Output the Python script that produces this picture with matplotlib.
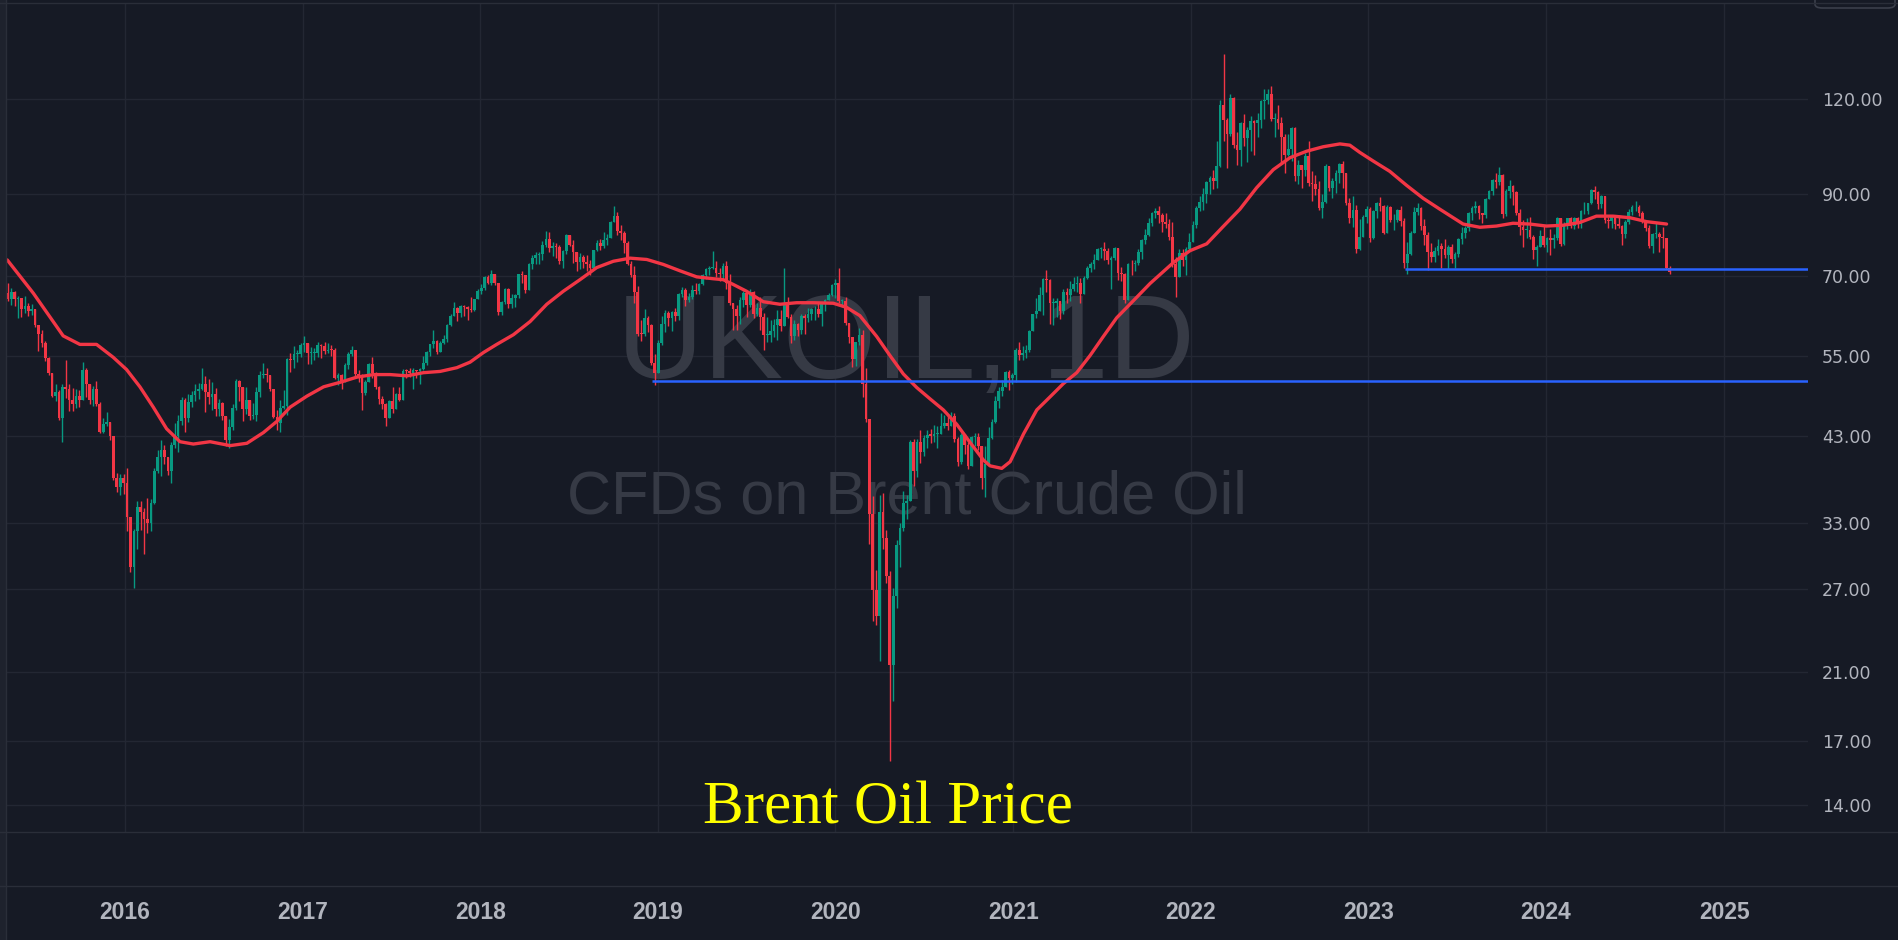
# Brent (UKOIL CFD) daily chart redrawn from weekly candles
import numpy as np
import pandas as pd
import matplotlib
matplotlib.use("Agg")
import matplotlib.pyplot as plt
import matplotlib.dates as mdates
from matplotlib import font_manager as fm
from matplotlib.lines import Line2D
from matplotlib.patches import Rectangle, FancyBboxPatch
from matplotlib.ticker import FixedLocator, NullLocator, FuncFormatter

# ---- data: weekly candles (week ending Friday) ----
first_week = "2015-05-01"
first_open = 66.0

wk_close = [
    # 2015
    66.5, 65.4, 66.8, 65.4, 65.6, 63.3, 63.9, 63.0, 63.3, 60.3, 58.7, 57.1, 54.6, 52.2, 48.6, 49.2, 45.5, 50.0,
    49.6, 48.1, 47.5, 48.6, 48.1, 52.7, 50.5, 48.0, 49.6, 47.4, 43.6, 44.7, 44.9, 43.0, 37.9, 36.9, 37.9,
    # 2016
    37.3, 33.6, 28.9, 32.2, 34.7, 34.1, 33.4, 33.0, 35.1, 38.7, 40.4, 41.2, 40.4, 38.7, 41.9, 43.1, 45.1, 48.1,
    45.4, 47.8, 48.7, 49.3, 49.6, 50.5, 49.2, 48.4, 48.9, 46.8, 47.6, 45.7, 42.5, 44.3, 46.9, 50.9, 49.9, 46.8,
    48.0, 45.8, 45.9, 49.2, 51.9, 51.9, 51.8, 49.7, 45.6, 44.8, 46.9, 47.2, 54.5, 54.3, 55.2, 55.2, 56.8,
    # 2017
    57.1, 55.5, 55.5, 55.5, 56.8, 56.7, 55.8, 56.0, 55.9, 51.4, 51.8, 50.8, 53.5, 55.2, 55.9, 52.0, 51.7, 49.1,
    50.8, 53.6, 52.2, 49.9, 48.2, 47.4, 45.5, 47.9, 46.7, 48.9, 48.1, 52.5, 52.4, 52.1, 52.7, 52.4, 52.8, 53.8,
    55.6, 56.9, 57.5, 55.6, 57.2, 57.8, 60.4, 62.1, 63.5, 62.7, 63.9, 63.7, 63.4, 63.2, 65.3, 66.9,
    # 2018
    67.6, 69.9, 68.6, 70.5, 68.6, 62.8, 64.8, 67.3, 64.4, 65.5, 66.2, 70.5, 70.3, 67.1, 72.6, 74.1, 74.6, 74.9,
    77.1, 78.5, 76.4, 76.8, 76.5, 73.4, 75.6, 79.4, 77.1, 75.3, 73.1, 74.3, 73.2, 72.8, 71.8, 75.8, 77.4, 76.8,
    78.1, 78.8, 82.7, 84.2, 80.4, 79.8, 77.6, 72.8, 70.2, 66.8, 58.8, 58.7, 61.7, 60.3, 53.8, 52.2,
    # 2019
    57.1, 60.5, 62.7, 61.6, 62.8, 62.1, 66.3, 67.1, 65.1, 65.7, 67.2, 67.0, 68.4, 70.3, 71.6, 71.9, 71.9, 70.8,
    70.6, 72.2, 68.7, 64.5, 63.3, 62.0, 65.2, 66.6, 64.2, 66.7, 62.5, 63.5, 61.9, 58.5, 58.6, 59.3, 60.4, 61.5,
    60.2, 64.3, 61.9, 58.4, 60.5, 59.4, 62.0, 61.7, 62.5, 63.3, 63.4, 62.4, 64.4, 65.2, 66.1, 68.2,
    # 2020
    68.6, 64.9, 64.9, 60.7, 58.2, 54.5, 57.3, 58.5, 50.5, 45.3, 33.9, 26.9, 24.9, 34.1, 31.5, 28.1, 21.4, 26.4,
    30.9, 32.5, 35.1, 35.3, 42.3, 38.7, 42.2, 41.0, 42.8, 43.2, 43.1, 43.3, 43.3, 44.4, 44.8, 44.4, 45.8, 42.7,
    39.8, 43.2, 41.9, 39.3, 42.9, 42.9, 41.8, 37.9, 39.5, 42.8, 44.9, 47.9, 49.3, 50.0, 52.3, 51.3,
    # 2021
    51.8, 56.0, 55.1, 55.4, 55.9, 59.3, 62.4, 62.9, 66.1, 69.4, 69.2, 64.5, 64.6, 64.9, 62.9, 66.8, 66.1, 67.3,
    68.3, 68.7, 66.4, 69.6, 71.9, 72.7, 73.5, 76.2, 76.2, 75.6, 73.6, 74.1, 76.3, 70.7, 70.6, 65.2, 72.7, 72.6,
    72.9, 75.3, 78.1, 79.3, 82.4, 84.9, 85.5, 84.4, 82.7, 82.2, 78.9, 72.7, 69.9, 75.2, 73.5, 76.1, 77.8,
    # 2022
    81.8, 86.1, 87.9, 90.0, 93.3, 94.4, 93.5, 97.9, 118.1, 112.7, 107.9, 120.7, 104.4, 102.8, 111.7, 106.7, 109.3,
    112.4, 111.6, 112.6, 119.4, 119.7, 122.0, 113.1, 113.1, 111.6, 107.0, 101.2, 103.2, 110.0, 94.9, 98.2, 96.7,
    100.9, 93.0, 92.8, 91.4, 86.2, 87.9, 97.9, 91.6, 93.5, 95.8, 98.6, 96.0, 87.6, 83.6, 85.6, 76.1, 79.0, 83.9, 85.9,
    # 2023
    78.6, 85.3, 87.6, 86.7, 79.9, 86.4, 83.0, 83.2, 85.8, 82.8, 73.0, 75.0, 79.8, 85.1, 86.3, 81.7, 79.5, 75.3,
    74.2, 75.6, 76.9, 76.1, 74.8, 76.6, 73.9, 74.9, 78.5, 79.9, 81.1, 85.0, 86.2, 86.8, 84.8, 84.5, 88.6, 90.7,
    93.9, 93.3, 95.3, 84.6, 90.9, 92.2, 90.5, 84.9, 81.4, 80.6, 80.6, 78.9, 75.8, 76.6, 79.1, 77.0,
    # 2024
    78.8, 78.3, 78.6, 83.6, 77.3, 82.2, 83.5, 81.6, 83.6, 82.1, 85.3, 85.4, 87.5, 91.2, 90.5, 87.3, 89.5, 83.0,
    82.8, 83.9, 82.1, 81.6, 79.6, 82.6, 85.2, 86.4, 86.5, 85.0, 82.6, 81.1, 76.8, 79.7, 79.7, 79.0, 78.8, 71.9, 70.9,
]

wk_high = [
    # 2015
    67.1, 68.5, 67.5, 67.0, 66.0, 65.6, 65.9, 64.5, 64.3, 63.3, 60.3, 59.5, 57.5, 54.8, 51.2, 50.5, 49.5, 50.5,
    54.2, 50.5, 49.8, 49.7, 49.5, 53.9, 53.0, 50.5, 50.1, 50.9, 47.8, 45.5, 46.3, 44.9, 43.0, 38.5, 38.3,
    # 2016
    38.3, 39.0, 33.6, 32.4, 35.3, 35.3, 34.6, 35.6, 35.5, 39.0, 41.3, 42.5, 41.9, 40.4, 42.3, 44.8, 45.9, 48.5,
    48.3, 48.9, 49.3, 50.5, 50.6, 52.9, 51.6, 51.2, 50.8, 49.8, 48.2, 47.8, 45.8, 45.3, 47.4, 51.2, 51.0, 49.4,
    49.9, 48.0, 47.6, 49.9, 52.5, 53.7, 53.0, 51.9, 49.6, 46.6, 48.0, 49.5, 54.6, 55.4, 56.6, 55.9, 57.1,
    # 2017
    58.4, 57.2, 56.4, 56.3, 57.3, 57.0, 57.3, 57.1, 56.8, 56.2, 52.1, 52.0, 53.7, 55.6, 56.6, 55.6, 52.6, 52.0,
    51.1, 53.7, 54.7, 52.3, 50.2, 48.6, 47.6, 48.1, 50.0, 49.0, 49.9, 52.8, 52.8, 53.0, 52.9, 52.6, 53.0, 55.0,
    55.8, 57.0, 59.5, 57.6, 57.5, 58.5, 60.5, 62.4, 64.7, 63.7, 64.1, 64.1, 63.9, 65.8, 65.4, 67.3,
    # 2018
    68.3, 70.1, 70.4, 71.3, 70.4, 68.7, 65.0, 67.5, 67.6, 66.4, 66.4, 70.6, 71.2, 69.7, 73.0, 74.7, 75.5, 75.3,
    78.0, 80.5, 80.2, 77.7, 77.4, 77.0, 75.9, 79.6, 79.4, 78.3, 74.1, 75.2, 74.6, 74.8, 73.6, 75.9, 78.3, 78.5,
    80.1, 79.6, 82.8, 86.7, 85.2, 81.8, 80.5, 77.9, 73.4, 72.3, 67.9, 61.3, 63.4, 62.0, 60.5, 55.3,
    # 2019
    57.6, 62.0, 63.2, 63.0, 63.0, 63.5, 66.5, 67.7, 67.5, 66.5, 68.1, 68.7, 68.5, 70.5, 71.9, 72.3, 75.6, 73.3,
    71.9, 72.9, 73.3, 70.5, 64.6, 64.1, 65.8, 66.9, 66.8, 67.4, 67.0, 64.5, 65.7, 62.6, 61.9, 61.2, 61.5, 63.2,
    63.1, 71.9, 65.8, 62.4, 61.3, 60.8, 62.5, 62.4, 63.5, 63.5, 64.0, 64.5, 64.8, 65.4, 66.5, 68.4,
    # 2020
    69.5, 71.8, 65.3, 65.7, 60.5, 56.9, 57.4, 59.8, 59.4, 53.0, 45.3, 35.8, 28.6, 36.0, 36.2, 32.3, 28.5, 27.1,
    31.4, 33.0, 36.4, 36.0, 42.5, 42.6, 42.6, 43.8, 43.2, 43.8, 44.0, 44.5, 44.4, 46.1, 45.9, 46.0, 46.3, 46.2,
    42.9, 43.5, 43.3, 42.2, 43.1, 43.5, 43.4, 41.7, 41.7, 44.2, 45.3, 48.6, 49.9, 51.0, 52.5, 52.6,
    # 2021
    52.1, 56.3, 57.4, 56.6, 56.8, 59.5, 62.5, 65.5, 67.7, 69.7, 71.4, 69.5, 65.6, 65.5, 64.9, 67.4, 67.5, 69.0,
    69.8, 70.0, 69.7, 70.0, 72.2, 73.2, 74.9, 76.4, 76.5, 77.8, 76.4, 74.4, 76.5, 76.0, 72.0, 70.7, 72.9, 73.6,
    73.5, 76.0, 78.5, 80.8, 83.5, 85.1, 86.1, 86.7, 85.0, 84.9, 83.3, 82.5, 74.3, 76.0, 76.0, 76.6, 79.8,
    # 2022
    82.9, 86.7, 89.5, 91.7, 93.7, 95.0, 96.8, 105.8, 119.8, 138.0, 113.5, 122.0, 121.0, 108.8, 112.0, 114.8, 110.5,
    114.0, 112.6, 115.0, 119.8, 124.0, 124.0, 125.2, 115.0, 118.0, 113.6, 108.0, 108.0, 110.3, 110.2, 99.7, 97.3,
    102.0, 105.6, 96.6, 95.4, 93.5, 90.0, 98.7, 97.7, 94.5, 96.9, 98.8, 99.6, 95.0, 89.0, 89.4, 87.0, 83.4, 84.4, 86.7,
    # 2023
    86.5, 85.7, 87.8, 89.1, 86.9, 86.9, 86.8, 84.6, 86.0, 86.8, 83.7, 77.7, 80.4, 86.4, 87.5, 86.5, 83.3, 80.2,
    77.5, 76.6, 78.5, 77.4, 78.5, 77.0, 77.3, 75.3, 78.8, 81.4, 81.6, 85.1, 86.7, 88.1, 87.0, 85.0, 88.8, 91.2,
    94.3, 95.9, 97.7, 95.5, 91.3, 93.8, 92.4, 90.8, 85.9, 83.2, 83.5, 84.0, 79.3, 77.0, 80.6, 81.7,
    # 2024
    79.0, 80.8, 79.7, 84.0, 83.7, 82.6, 83.7, 84.0, 84.0, 83.8, 85.7, 87.7, 87.6, 91.3, 92.2, 90.8, 89.7, 89.0,
    84.0, 84.2, 83.9, 84.4, 81.9, 83.0, 86.0, 87.0, 88.0, 87.0, 85.4, 83.0, 81.8, 80.0, 82.4, 80.2, 81.4, 78.6, 72.3,
]

wk_low = [
    # 2015
    64.5, 64.9, 64.2, 64.0, 61.6, 61.8, 62.7, 62.0, 62.3, 60.0, 55.8, 56.4, 54.1, 51.8, 48.4, 47.9, 45.2, 42.2,
    48.3, 46.4, 46.5, 46.9, 47.0, 48.0, 48.5, 47.5, 47.1, 47.2, 43.4, 43.5, 44.4, 42.5, 37.6, 36.3, 36.0,
    # 2016
    36.1, 32.2, 28.4, 27.1, 30.5, 32.3, 30.0, 32.0, 32.2, 35.0, 38.5, 38.1, 39.5, 38.2, 37.3, 41.5, 41.0, 44.5,
    43.6, 44.9, 47.0, 47.9, 48.2, 49.5, 46.3, 47.5, 46.6, 45.8, 45.8, 45.2, 41.8, 41.5, 43.9, 46.6, 47.9, 45.1,
    46.0, 45.2, 45.3, 45.1, 48.4, 51.3, 50.7, 49.4, 45.4, 43.9, 43.6, 46.8, 45.9, 52.3, 53.0, 54.0, 54.8,
    # 2017
    55.6, 53.6, 53.6, 54.2, 54.8, 54.6, 55.3, 55.5, 55.0, 51.2, 50.3, 49.7, 50.7, 52.8, 55.0, 51.6, 50.7, 46.6,
    48.8, 50.8, 51.3, 49.6, 47.5, 46.7, 44.4, 45.5, 46.1, 46.9, 47.9, 48.0, 51.3, 51.5, 49.7, 51.4, 50.5, 52.6,
    53.5, 54.9, 56.2, 55.2, 55.8, 57.0, 57.3, 60.2, 62.0, 61.1, 61.8, 62.0, 61.3, 62.8, 63.0, 65.3,
    # 2018
    66.3, 67.2, 68.3, 68.2, 68.2, 62.3, 62.2, 64.3, 63.5, 63.6, 63.7, 65.5, 68.7, 66.6, 67.4, 71.6, 72.8, 72.6,
    73.6, 76.6, 75.3, 74.5, 74.1, 72.6, 71.9, 74.9, 76.8, 73.0, 71.2, 71.7, 71.8, 71.2, 70.3, 71.6, 75.6, 75.9,
    76.3, 77.0, 78.6, 83.1, 79.4, 78.1, 75.1, 72.4, 69.8, 64.6, 58.4, 57.5, 58.4, 59.1, 53.5, 50.3,
    # 2019
    52.5, 56.8, 59.0, 60.1, 59.3, 61.1, 61.3, 65.7, 64.0, 64.8, 65.4, 66.3, 66.3, 68.2, 69.4, 70.3, 71.7, 69.9,
    69.1, 69.4, 67.4, 64.2, 59.5, 59.5, 60.5, 63.8, 61.8, 63.7, 61.7, 62.0, 59.5, 55.9, 57.4, 57.3, 58.2, 57.6,
    59.2, 60.5, 61.6, 57.1, 57.7, 58.3, 58.8, 58.8, 60.9, 61.3, 61.2, 61.8, 60.2, 63.0, 65.1, 65.9,
    # 2020
    65.5, 64.5, 63.8, 60.4, 57.1, 53.1, 53.3, 56.8, 48.4, 44.9, 31.0, 24.5, 24.2, 21.7, 30.5, 27.5, 16.0, 19.2,
    25.5, 28.9, 32.2, 33.4, 36.5, 37.0, 38.0, 39.6, 40.5, 41.5, 42.1, 42.3, 41.5, 43.3, 44.1, 43.9, 44.5, 42.3,
    39.3, 39.5, 40.8, 38.9, 39.5, 41.7, 41.2, 36.6, 35.7, 39.3, 42.6, 44.8, 46.9, 48.6, 49.9, 49.5,
    # 2021
    50.4, 50.7, 54.3, 54.2, 54.6, 55.6, 59.4, 61.7, 63.3, 62.3, 66.7, 60.5, 60.3, 61.8, 61.5, 62.4, 64.6, 64.9,
    67.0, 66.8, 64.6, 66.3, 69.5, 71.0, 71.7, 73.5, 74.0, 73.5, 72.8, 67.4, 73.5, 69.3, 69.1, 64.6, 65.4, 70.2,
    71.1, 72.4, 73.9, 77.3, 79.1, 81.6, 83.6, 82.3, 80.1, 81.2, 78.2, 72.1, 65.7, 70.0, 72.2, 70.2, 75.8,
    # 2022
    77.9, 81.2, 85.4, 85.8, 87.6, 89.9, 91.3, 91.5, 97.6, 105.6, 97.4, 107.4, 103.4, 98.3, 97.9, 104.0, 99.3,
    102.5, 101.3, 107.0, 110.0, 113.0, 118.2, 112.5, 107.0, 109.6, 98.5, 96.0, 101.0, 99.5, 93.5, 92.8, 91.6,
    94.9, 92.3, 88.0, 89.7, 85.6, 83.6, 87.6, 90.7, 89.0, 90.2, 92.9, 91.7, 86.9, 82.3, 81.3, 75.1, 75.8, 78.9, 82.4,
    # 2023
    77.8, 78.5, 83.5, 85.4, 79.6, 80.3, 82.5, 80.6, 82.5, 81.5, 71.8, 70.6, 74.7, 79.9, 84.3, 80.6, 77.0, 71.4,
    73.1, 73.2, 74.6, 71.9, 74.0, 71.6, 73.0, 71.8, 74.3, 77.3, 78.8, 80.5, 83.0, 84.9, 83.3, 82.4, 83.7, 88.6,
    89.6, 91.6, 92.5, 83.5, 84.2, 89.0, 86.9, 84.3, 79.3, 76.6, 78.6, 78.4, 73.8, 72.3, 76.6, 76.6,
    # 2024
    75.3, 74.8, 76.4, 78.1, 76.9, 77.0, 80.9, 81.1, 80.8, 81.1, 81.1, 84.7, 84.7, 87.3, 88.6, 86.0, 86.1, 82.4,
    81.0, 81.1, 80.8, 81.0, 77.0, 78.7, 82.2, 84.5, 85.3, 84.2, 82.3, 80.5, 76.3, 75.1, 78.8, 75.4, 76.4, 71.5, 70.6,
]

# red moving average, read point by point (decimal year, price)
ma_year = [
    2015.339, 2015.486, 2015.654, 2015.748, 2015.842, 2015.936, 2016.011, 2016.086, 2016.161, 2016.236,
    2016.311, 2016.386, 2016.48, 2016.593, 2016.687, 2016.78, 2016.855, 2016.93, 2017.024, 2017.118,
    2017.212, 2017.306, 2017.399, 2017.493, 2017.587, 2017.68, 2017.774, 2017.868, 2017.943, 2018.018,
    2018.093, 2018.187, 2018.281, 2018.375, 2018.468, 2018.562, 2018.656, 2018.75, 2018.844, 2018.938,
    2019.031, 2019.125, 2019.219, 2019.312, 2019.369, 2019.425, 2019.5, 2019.594, 2019.688, 2019.782,
    2019.875, 2019.988, 2020.063, 2020.138, 2020.232, 2020.307, 2020.382, 2020.457, 2020.532, 2020.607,
    2020.682, 2020.757, 2020.832, 2020.869, 2020.935, 2020.982, 2021.057, 2021.132, 2021.207, 2021.282,
    2021.357, 2021.432, 2021.507, 2021.582, 2021.676, 2021.77, 2021.901, 2021.995, 2022.089, 2022.182,
    2022.276, 2022.37, 2022.464, 2022.558, 2022.652, 2022.745, 2022.839, 2022.895, 2022.952, 2023.026,
    2023.12, 2023.214, 2023.308, 2023.402, 2023.533, 2023.627, 2023.721, 2023.814, 2023.908, 2024.002,
    2024.096, 2024.19, 2024.283, 2024.377, 2024.471, 2024.565, 2024.677,
]
ma_value = [
    73.6, 66.5, 58.4, 56.9, 56.9, 54.7, 52.7, 50.0, 47.0, 44.0,
    42.3, 42.0, 42.3, 41.8, 42.1, 43.5, 45.0, 47.0, 48.6, 50.0,
    50.7, 51.5, 51.9, 51.9, 51.7, 52.2, 52.4, 53.0, 53.9, 55.5,
    56.9, 58.6, 61.0, 64.3, 66.9, 69.3, 71.9, 73.3, 74.0, 73.7,
    72.6, 71.2, 69.9, 69.5, 69.3, 68.3, 66.9, 64.8, 64.3, 64.6,
    64.6, 64.5, 63.7, 62.1, 58.3, 55.0, 52.0, 49.9, 48.2, 46.6,
    44.6, 42.2, 40.0, 39.3, 39.0, 39.8, 43.3, 46.6, 48.5, 50.5,
    52.2, 55.0, 58.3, 61.7, 65.0, 68.5, 73.0, 75.7, 77.3, 81.5,
    85.9, 91.7, 96.9, 100.5, 102.5, 103.9, 104.8, 104.4, 102.1, 99.5,
    96.4, 92.4, 88.8, 85.9, 82.1, 81.3, 81.6, 82.3, 82.1, 81.6,
    81.8, 82.5, 84.1, 84.1, 83.7, 82.7, 82.1,
]

# blue support lines
level_price = [50.9, 71.6]
level_start = ["2018-12-21", "2023-03-17"]

price_ticks = [14, 17, 21, 27, 33, 43, 55, 70, 90, 120]
year_ticks = list(range(2016, 2026))

# ---- style ----
W, H = 1899, 940
BG = "#161a25"
GRID = "#232733"
BORDER = "#2a2e39"
UP = "#089981"
DOWN = "#f23645"
LABEL = "#b2b5be"
WATERMARK = "#363a45"


def year_to_date(y):
    yr = int(y)
    start = pd.Timestamp(year=yr, month=1, day=1)
    end = pd.Timestamp(year=yr + 1, month=1, day=1)
    return start + (end - start) * (y - yr)


def has_font(name):
    return any(f.name == name for f in fm.fontManager.ttflist)


def main():
    close = np.array(wk_close)
    high = np.array(wk_high)
    low = np.array(wk_low)
    opn = np.concatenate([[first_open], close[:-1]])
    dates = pd.date_range(first_week, periods=len(close), freq="W-FRI") - pd.Timedelta(days=2)
    colors = np.where(close >= opn, UP, DOWN)

    # narrow sans for the watermark and the year labels if one is around
    if has_font("Liberation Sans Narrow"):
        narrow, wm_size, yr_size = "Liberation Sans Narrow", 101, 17.5
    else:
        narrow, wm_size, yr_size = "Liberation Sans", 86, 16.5

    fig = plt.figure(figsize=(W / 100, H / 100), dpi=100, facecolor=BG)
    ax = fig.add_axes([7 / W, 1 - 832 / H, 1801 / W, 829 / H], facecolor=BG)
    ax_bot = fig.add_axes([7 / W, 1 - 886 / H, 1801 / W, 54 / H], facecolor=BG, sharex=ax)

    # candles
    ax.vlines(dates, np.minimum(low, np.minimum(opn, close)), np.maximum(high, np.maximum(opn, close)),
              colors=colors, lw=1.0, zorder=2)
    body_lo = np.minimum(opn, close)
    body_h = np.maximum(np.abs(close - opn), 0.15)
    ax.bar(dates, body_h, bottom=body_lo, width=5.5, color=colors, lw=0, zorder=2)

    # moving average
    ma_dates = [year_to_date(y) for y in ma_year]
    ax.plot(ma_dates, ma_value, color=DOWN, lw=2.4, solid_capstyle="round", solid_joinstyle="round", zorder=3)

    x_left = year_to_date(2015.3377)
    x_right = year_to_date(2025.4727)
    for lvl, start in zip(level_price, level_start):
        ax.hlines(lvl, pd.Timestamp(start), x_right, color="#2962ff", lw=1.8, zorder=4)

    ax.set_xlim(x_left, x_right)
    ax.set_yscale("log")
    ax.set_ylim(12.88, 161.0)
    ax.yaxis.set_major_locator(FixedLocator(price_ticks))
    ax.yaxis.set_minor_locator(NullLocator())
    ax.yaxis.set_major_formatter(FuncFormatter(lambda v, _: f"{v:.2f}"))
    ax.yaxis.tick_right()
    ax.tick_params(axis="y", length=0, pad=10, labelsize=12.5, labelcolor=LABEL)
    ax.set_xticks([pd.Timestamp(f"{y}-01-01") for y in year_ticks])
    ax.tick_params(axis="x", length=0, labelbottom=False)
    ax.grid(True, color=GRID, lw=1)
    ax.set_axisbelow(True)
    for s in ax.spines.values():
        s.set_visible(False)

    ax_bot.xaxis.set_major_formatter(mdates.DateFormatter("%Y"))
    ax_bot.set_yticks([])
    ax_bot.tick_params(axis="x", length=0, pad=11, labelsize=yr_size, labelcolor=LABEL)
    plt.setp(ax_bot.get_xticklabels(), fontfamily=[narrow, "DejaVu Sans"], fontweight="bold")
    for s in ax_bot.spines.values():
        s.set_visible(False)

    # watermark behind the candles
    ax.text(906 / W, 1 - 378 / H, "UKOIL, 1D", transform=fig.transFigure, ha="center", va="baseline",
            fontsize=wm_size, family=[narrow, "DejaVu Sans"], color=WATERMARK, zorder=1)
    ax.text(907 / W, 1 - 514 / H, "CFDs on Brent Crude Oil", transform=fig.transFigure, ha="center",
            va="baseline", fontsize=44, family=["Liberation Sans", "DejaVu Sans"], color=WATERMARK, zorder=1)

    fig.text(888 / W, 1 - 823 / H, "Brent Oil Price", ha="center", va="baseline", fontsize=44,
             family=["Liberation Serif", "DejaVu Serif"], color="#ffff00")

    # pane borders
    fig.add_artist(Rectangle((0, 0), 6 / W, 1, transform=fig.transFigure, color="#1e222d", lw=0))
    for yy in (3, 832, 886):
        fig.add_artist(Line2D([0, 1], [1 - yy / H] * 2, transform=fig.transFigure, color=BORDER, lw=1))
    fig.add_artist(Line2D([6.5 / W] * 2, [0, 1], transform=fig.transFigure, color=BORDER, lw=1))

    # cut-off price badge at the top right corner
    fig.add_artist(FancyBboxPatch((1815 / W, 1 - 8 / H), 80 / W, 20 / H, boxstyle="round,pad=0,rounding_size=0.004",
                                  transform=fig.transFigure, facecolor=BG, edgecolor="#3b3f4b", lw=1.2))

    fig.savefig("out.png", dpi=100, facecolor=BG)


if __name__ == "__main__":
    main()
